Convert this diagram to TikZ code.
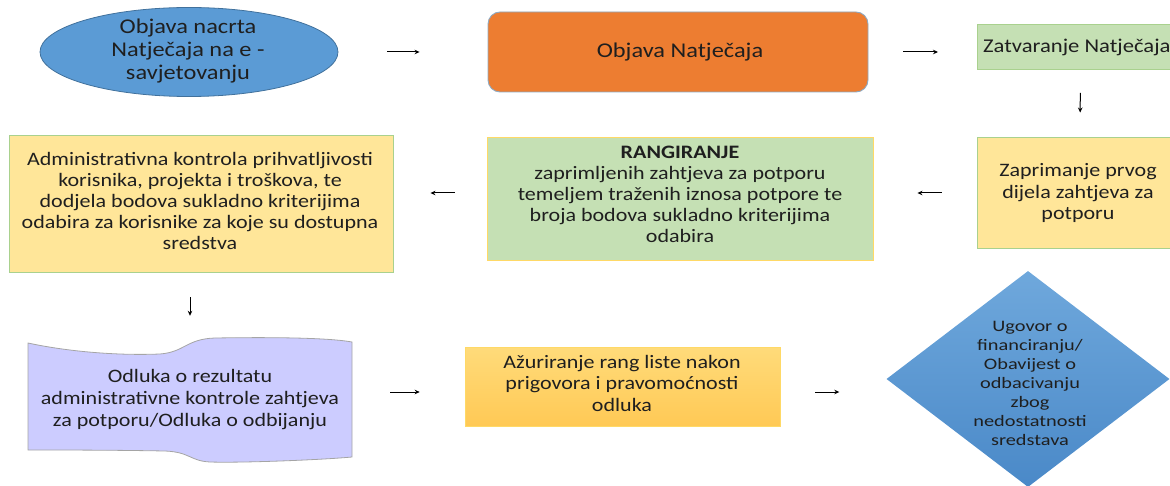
\documentclass[tikz,border=0pt]{standalone}
\usepackage{fontspec}
\setmainfont[FakeStretch=1.16]{Carlito}
\newfontfamily\diafont[FakeStretch=1.27]{Carlito}
\usetikzlibrary{shapes.geometric,arrows.meta}
\definecolor{txt}{HTML}{1F1F1F}
\definecolor{blu}{HTML}{5B9BD5}
\definecolor{bluD}{HTML}{41719C}
\definecolor{org}{HTML}{ED7D31}
\definecolor{orgB}{HTML}{8EA9C1}
\definecolor{grn}{HTML}{C5E0B4}
\definecolor{grnB}{HTML}{A9D18E}
\definecolor{yel}{HTML}{FFE699}
\definecolor{yelB}{HTML}{FFD966}
\definecolor{azT}{HTML}{FFDB7A}
\definecolor{azB}{HTML}{FFC955}
\definecolor{pur}{HTML}{CCCCFF}
\definecolor{purB}{HTML}{A5A5A5}
\definecolor{diaT}{HTML}{6FA8DC}
\definecolor{diaB}{HTML}{4A89C8}
\tikzset{
  lbl/.style={text=txt, align=center, inner sep=0pt},
  boxbase/.style={rectangle, inner sep=0pt, line width=0.9pt},
  conn/.style={-{Stealth[length=5pt,width=4.5pt]}, line width=1pt, black},
}
\begin{document}
\begin{tikzpicture}[x=1pt,y=-1pt]
\useasboundingbox (0,0) rectangle (1170,486);
\clip (0,0) rectangle (1170,486);
% row 1
\node[ellipse, fill=blu, draw=bluD, line width=0.8pt, minimum width=298, minimum height=89, inner sep=0pt] (ell) at (189,52) {};
\node[lbl, font=\fontsize{21}{23}\selectfont] (ellt) at (188,51) {Objava nacrta\\Natječaja na e -\\savjetovanju};
\node[boxbase, rounded corners=12pt, fill=org, draw=orgB, minimum width=380, minimum height=80] (obj) at (678,52) {};
\node[lbl, font=\fontsize{21}{23}\selectfont] (objt) at (680,52) {Objava Natječaja};
\node[boxbase, fill=grn, draw=grnB, minimum width=206, minimum height=45, anchor=west] (zat) at (977,47) {};
\node[lbl, font=\fontsize{19.5}{21}\selectfont, anchor=west] (zatt) at (983,47) {Zatvaranje Natječaja};
% row 2
\node[boxbase, fill=yel, draw=grnB, minimum width=206, minimum height=111] (zap) at (1080,192.5) {};
\node[lbl, font=\fontsize{19}{21.5}\selectfont] (zapt) at (1078,193) {Zaprimanje prvog\\dijela zahtjeva za\\potporu};
\node[boxbase, fill=grn, draw=yelB, minimum width=386, minimum height=123] (rang) at (680,198.5) {};
\node[lbl, font=\fontsize{19}{21}\selectfont] (rangt) at (680,194) {\textbf{RANGIRANJE}\\zaprimljenih zahtjeva za potporu\\temeljem traženih iznosa potpore te\\broja bodova sukladno kriterijima\\odabira};
\node[boxbase, fill=yel, draw=grnB, minimum width=384, minimum height=137] (adm) at (201,203.5) {};
\node[lbl, font=\fontsize{19}{21}\selectfont] (admt) at (200,201) {Administrativna kontrola prihvatljivosti\\korisnika, projekta i troškova, te\\dodjela bodova sukladno kriterijima\\odabira za korisnike za koje su dostupna\\sredstva};
% row 3
\node[rectangle, inner sep=0pt, minimum width=324, minimum height=124] (doc) at (190,400) {};
\def\docpath{(28,343) .. controls (60,350) and (110,356) .. (160,354)
  .. controls (185,352) and (186,339) .. (215,338)
  .. controls (280,337) and (330,338) .. (352,342)
  -- (352,457) .. controls (320,460) and (240,463) .. (210,462)
  .. controls (190,461) and (190,452) .. (165,451)
  .. controls (110,450) and (60,450) .. (28,450) -- cycle}
\fill[pur] \docpath;
\draw[purB, line width=0.8pt] \docpath;
\node[lbl, font=\fontsize{19}{22}\selectfont] (doct) at (190,400) {Odluka o rezultatu\\administrativne kontrole zahtjeva\\za potporu/Odluka o odbijanju};
\node[boxbase, top color=azT, bottom color=azB, draw=yelB, line width=0.6pt, minimum width=315, minimum height=79] (az) at (622.5,386.5) {};
\node[lbl, font=\fontsize{19}{21.5}\selectfont] (azt) at (622,383) {Ažuriranje rang liste nakon\\prigovora i pravomoćnosti\\odluka};
\node[diamond, top color=diaT, bottom color=diaB, minimum width=283, minimum height=216, inner sep=0pt] (dia) at (1028,379) {};
\node[lbl, font=\diafont\fontsize{16}{19}\selectfont] (diat) at (1030,383) {Ugovor o\\financiranju/\\Obavijest o\\odbacivanju\\zbog\\nedostatnosti\\sredstava};
% connectors
\draw[conn, shorten <=49pt, shorten >=68pt] (ell.east) -- (obj.west);
\draw[conn, shorten <=35pt, shorten >=39pt] (obj.east) -- (zat.west |- obj.east);
\draw[conn, shorten <=23pt, shorten >=24pt] (zat.south) -- (zap.north);
\draw[conn, shorten <=35pt, shorten >=44pt] (zap.west |- 0,193) -- (rang.east |- 0,193);
\draw[conn, shorten <=32pt, shorten >=37pt] (rang.west |- 0,193) -- (adm.east |- 0,193);
\draw[conn, shorten <=25pt, shorten >=22pt] (adm.south -| doc.north) -- (doc.north);
\draw[conn, shorten <=38pt, shorten >=45pt] (doc.east |- 0,392) -- (az.west |- 0,392);
\draw[conn, shorten <=35pt, shorten >=47pt] (az.east |- 0,392) -- (dia.west |- 0,392);
\end{tikzpicture}
\end{document}
